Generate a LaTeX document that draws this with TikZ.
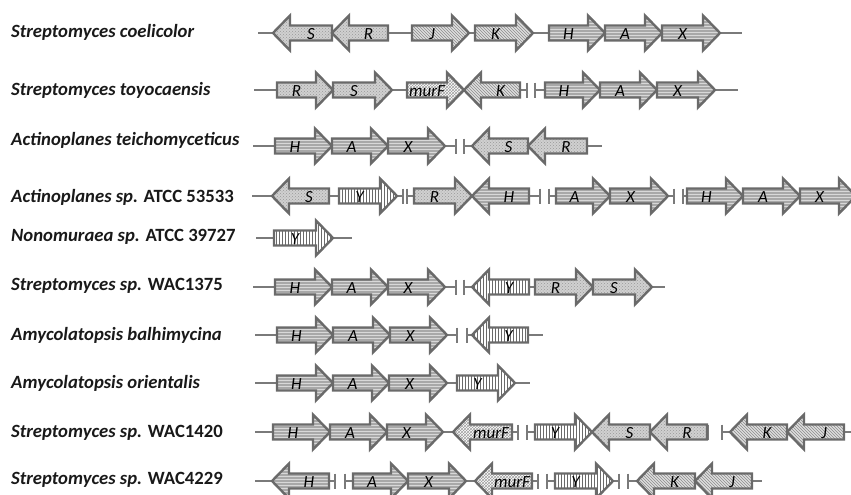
\documentclass[tikz,border=0pt]{standalone}
\usepackage{fontspec}
\setmainfont{Carlito}
\usetikzlibrary{patterns}
\definecolor{edge}{HTML}{6A6A6A}
\definecolor{bbline}{HTML}{7A7A7A}
\definecolor{haxfill}{HTML}{A8A8A8}
\definecolor{haxline}{HTML}{D8D8D8}
\definecolor{srfill}{HTML}{D0D0D0}
\definecolor{srdot}{HTML}{989898}
\definecolor{jkfill}{HTML}{DEDEDE}
\definecolor{jkline}{HTML}{8C8C8C}
\definecolor{mfline}{HTML}{A0A0A0}
\definecolor{yline}{HTML}{6A6A6A}
\newcounter{genec}
\tikzset{
  gene/.style={draw=edge, line width=2.4pt, line join=miter},
  hax/.style={preaction={fill=haxfill}, pattern=horizontal lines, pattern color=haxline},
  sr/.style={preaction={fill=srfill}, pattern=crosshatch dots, pattern color=srdot},
  jk/.style={preaction={fill=jkfill}, pattern=north west lines, pattern color=jkline},
  mf/.style={preaction={fill=white}, pattern=crosshatch, pattern color=mfline},
  yy/.style={preaction={fill=white}, pattern=vertical lines, pattern color=yline},
  glabel/.style={font=\fontsize{17}{18}\selectfont\itshape, text=black, inner sep=0pt},
  species/.style={font=\fontsize{18.7}{20}\selectfont\bfseries, text=black!90, anchor=west, inner sep=0pt},
  bbl/.style={draw=bbline, line width=1.3pt},
  brkbar/.style={draw=bbline, line width=2pt}
}
% right-pointing gene: #1 start x, #2 tip x, #3 y, #4 label, #5 style
\newcommand\gr[5]{%
  \path[gene,#5] ({#1},{#3-7.5}) -- ({#2-17},{#3-7.5}) -- ({#2-17},{#3-17.5}) -- ({#2},{#3})
     -- ({#2-17},{#3+17.5}) -- ({#2-17},{#3+7.5}) -- ({#1},{#3+7.5}) -- cycle;
  \stepcounter{genec}%
  \node[glabel] (gene\arabic{genec}) at ({(#1+#2-17)/2},{#3+1}) {#4};}
% left-pointing gene: #1 tip x, #2 end x, #3 y, #4 label, #5 style
\newcommand\gl[5]{%
  \path[gene,#5] ({#2},{#3-7.5}) -- ({#1+17},{#3-7.5}) -- ({#1+17},{#3-17.5}) -- ({#1},{#3})
     -- ({#1+17},{#3+17.5}) -- ({#1+17},{#3+7.5}) -- ({#2},{#3+7.5}) -- cycle;
  \stepcounter{genec}%
  \node[glabel] (gene\arabic{genec}) at ({(#1+17+#2)/2},{#3+1}) {#4};}
% backbone segment
\newcommand\bb[3]{\draw[bbl] ({#1},{#3}) -- ({#2},{#3});}
% break marks
\newcommand\brk[3]{\draw[brkbar] ({#1},{#3-7.5}) -- ({#1},{#3+7.5}); \draw[brkbar] ({#2},{#3-7.5}) -- ({#2},{#3+7.5});}
\begin{document}
\begin{tikzpicture}[x=1pt,y=-1pt]
\useasboundingbox (0,0) rectangle (851,495);
\clip (0,0) rectangle (851,495);
% species labels
\node[species] (sp1) at (11,32) {\itshape Streptomyces coelicolor};
\node[species] (sp2) at (11,90) {\itshape Streptomyces toyocaensis};
\node[species] (sp3) at (11,140) {\itshape Actinoplanes teichomyceticus};
\node[species] (sp4) at (11,197) {{\itshape Actinoplanes sp.} ATCC 53533};
\node[species] (sp5) at (11,237) {{\itshape Nonomuraea sp.} ATCC 39727};
\node[species] (sp6) at (11,286) {{\itshape Streptomyces sp.} WAC1375};
\node[species] (sp7) at (11,335) {\itshape Amycolatopsis balhimycina};
\node[species] (sp8) at (11,383) {\itshape Amycolatopsis orientalis};
\node[species] (sp9) at (11,433) {{\itshape Streptomyces sp.} WAC1420};
\node[species] (sp10) at (11,480) {{\itshape Streptomyces sp.} WAC4229};
% Row 1
\bb{258}{742}{33}
\gl{273}{332}{33}{S}{sr}
\gl{332}{388}{33}{R}{sr}
\gr{412}{469}{33}{J}{jk}
\gr{475}{533}{33}{K}{jk}
\gr{549}{605}{33}{H}{hax}
\gr{605}{662}{33}{A}{hax}
\gr{662}{720}{33}{X}{hax}
% Row 2
\bb{254}{527}{90}\bb{535}{738}{90}\brk{527}{535}{90}
\gr{277}{333}{90}{R}{sr}
\gr{333}{392}{90}{S}{sr}
\gr{407}{464}{90}{murF}{mf}
\gl{464}{520}{90}{K}{jk}
\gr{545}{600}{90}{H}{hax}
\gr{600}{657}{90}{A}{hax}
\gr{657}{715}{90}{X}{hax}
% Row 3
\bb{253}{456}{146}\bb{464}{602}{146}\brk{456}{464}{146}
\gr{275}{332}{146}{H}{hax}
\gr{332}{388}{146}{A}{hax}
\gr{388}{445}{146}{X}{hax}
\gl{472}{528}{146}{S}{sr}
\gl{528}{587}{146}{R}{sr}
% Row 4
\bb{252}{403}{196}\bb{407}{540}{196}\bb{549}{674}{196}\bb{683}{851}{196}
\brk{403}{407}{196}\brk{540}{549}{196}\brk{674}{683}{196}
\gl{272}{329}{196}{S}{sr}
\gr{339}{397}{196}{Y}{yy}
\gr{414}{472}{196}{R}{sr}
\gl{472}{529}{196}{H}{hax}
\gr{556}{610}{196}{A}{hax}
\gr{610}{668}{196}{X}{hax}
\gr{687}{743}{196}{H}{hax}
\gr{743}{800}{196}{A}{hax}
\gr{800}{856}{196}{X}{hax}
% Row 5
\bb{256}{352}{238}
\gr{274}{333}{238}{Y}{yy}
% Row 6
\bb{253}{456}{287}\bb{464}{665}{287}\brk{456}{464}{287}
\gr{275}{332}{287}{H}{hax}
\gr{332}{388}{287}{A}{hax}
\gr{388}{445}{287}{X}{hax}
\gl{472}{529}{287}{Y}{yy}
\gr{535}{593}{287}{R}{sr}
\gr{593}{652}{287}{S}{sr}
% Row 7
\bb{255}{457}{335}\bb{467}{543}{335}\brk{457}{467}{335}
\gr{277}{333}{335}{H}{hax}
\gr{333}{390}{335}{A}{hax}
\gr{390}{447}{335}{X}{hax}
\gl{472}{528}{335}{Y}{yy}
% Row 8
\bb{255}{530}{383}
\gr{277}{333}{383}{H}{hax}
\gr{333}{389}{383}{A}{hax}
\gr{389}{447}{383}{X}{hax}
\gr{457}{515}{383}{Y}{yy}
% Row 9
\bb{255}{518}{432}\bb{527}{708}{432}\bb{722}{851}{432}
\brk{518}{527}{432}\brk{708}{722}{432}
\gr{273}{330}{432}{H}{hax}
\gr{330}{387}{432}{A}{hax}
\gr{387}{443}{432}{X}{hax}
\gl{453}{512}{432}{murF}{mf}
\gr{535}{592}{432}{Y}{yy}
\gl{592}{650}{432}{S}{sr}
\gl{650}{707}{432}{R}{sr}
\gl{730}{787}{432}{K}{jk}
\gl{787}{844}{432}{J}{jk}
% Row 10
\bb{255}{335}{481}\bb{345}{538}{481}\bb{547}{619}{481}\bb{628}{762}{481}
\brk{335}{345}{481}\brk{538}{547}{481}\brk{619}{628}{481}
\gl{272}{329}{481}{H}{hax}
\gr{353}{408}{481}{A}{hax}
\gr{408}{466}{481}{X}{hax}
\gl{475}{532}{481}{murF}{mf}
\gr{555}{613}{481}{Y}{yy}
\gl{637}{695}{481}{K}{jk}
\gl{695}{752}{481}{J}{jk}
\end{tikzpicture}
\end{document}
